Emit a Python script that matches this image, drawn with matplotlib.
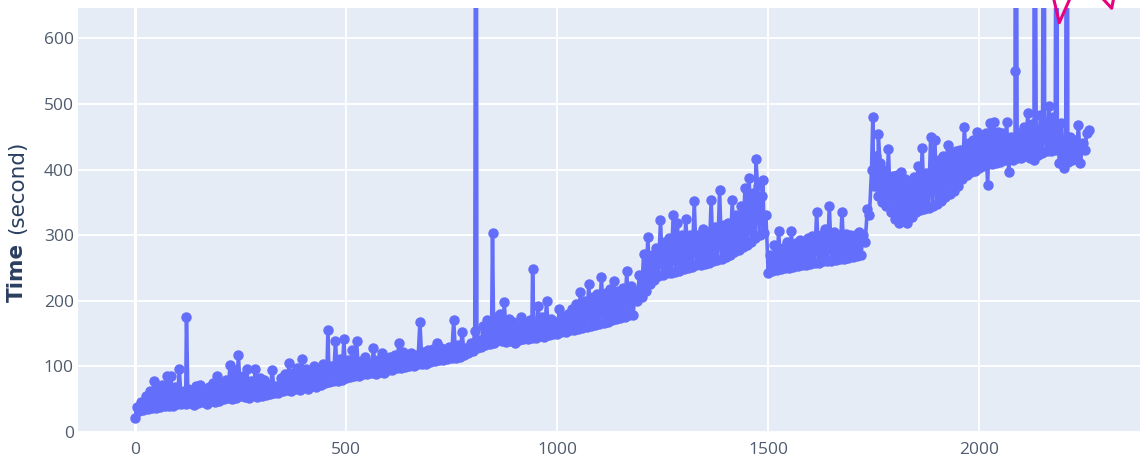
import matplotlib
matplotlib.use("Agg")
import matplotlib.pyplot as plt
import numpy as np

# run time per job, one value every 5 runs
STEP = 5
times = [
    22, 38, 32, 45, 33, 55, 35, 62, 36, 77, 37, 66, 38, 72, 39, 86, 40, 86, 40, 68,                     # 0
    42, 96, 43, 62, 42, 66, 44, 58, 41, 70, 44, 72, 46, 60, 43, 68, 47, 74, 46, 86,                     # 100
    48, 75, 50, 80, 52, 102, 50, 95, 52, 117, 55, 85, 54, 96, 52, 78, 56, 96, 54, 82,                   # 200
    55, 80, 57, 72, 58, 95, 60, 70, 59, 82, 62, 88, 64, 105, 62, 90, 66, 98, 64, 111,                   # 300
    68, 96, 66, 90, 70, 100, 68, 92, 72, 103, 74, 98, 76, 100, 78, 139, 78, 112, 80, 141,               # 400
    82, 110, 84, 125, 85, 139, 86, 108, 88, 115, 88, 105, 90, 128, 88, 110, 92, 121, 90, 112,           # 500
    94, 115, 95, 118, 97, 136, 98, 122, 99, 118, 100, 120, 101, 117, 103, 167, 103, 122, 104, 125,      # 600
    106, 126, 108, 136, 109, 128, 110, 124, 112, 130, 113, 170, 113, 132, 115, 152, 117, 128, 120, 135, # 700
    124, 154, 128, 140, 130, 162, 132, 170, 134, 165, 136, 175, 140, 180, 138, 198, 137, 172, 139, 168, # 800
    136, 160, 140, 175, 142, 165, 141, 170, 144, 160, 143, 192, 146, 175, 145, 199, 148, 172, 150, 168, # 900
    150, 188, 152, 175, 153, 180, 155, 187, 155, 195, 157, 213, 158, 200, 160, 226, 162, 205, 163, 210, # 1000
    165, 237, 166, 212, 168, 218, 170, 230, 172, 215, 174, 220, 176, 245, 178, 222, 178, 215, 200, 240, # 1100
    205, 272, 215, 297, 225, 270, 232, 280, 238, 323, 240, 290, 242, 295, 243, 330, 244, 319, 245, 300, # 1200
    248, 325, 250, 300, 252, 352, 254, 300, 255, 310, 256, 305, 258, 354, 260, 312, 262, 369, 264, 315, # 1300
    266, 318, 270, 353, 274, 330, 278, 345, 282, 372, 285, 387, 290, 365, 295, 375, 300, 360, 303, 330, # 1400
    243, 270, 245, 285, 247, 306, 248, 280, 250, 290, 250, 306, 252, 288, 253, 292, 254, 285, 255, 295, # 1500
    256, 298, 258, 336, 258, 300, 260, 310, 260, 345, 261, 305, 262, 300, 263, 336, 264, 302, 265, 300, # 1600
    266, 300, 268, 305, 270, 300, 290, 340, 330, 400, 375, 420, 360, 410, 350, 400, 345, 432, 335, 390, # 1700
    325, 392, 319, 396, 330, 385, 319, 380, 328, 388, 335, 405, 338, 433, 340, 395, 342, 450, 345, 445, # 1800
    348, 415, 352, 420, 358, 437, 362, 425, 368, 428, 375, 430, 385, 465, 392, 440, 396, 445, 398, 458, # 1900
    402, 452, 405, 455, 377, 471, 408, 473, 410, 458, 412, 455, 414, 473, 397, 450, 415, 445, 418, 455, # 2000
    418, 465, 420, 486, 418, 470, 415, 460, 422, 483, 425, 470, 428, 497, 428, 480, 430, 465, 410, 471, # 2100
    402, 440, 412, 450, 415, 445, 418, 468, 410, 440, 430, 455, 460,                                    # 2200
]

# isolated outliers (run, time); the tall ones run off the top of the plot
spike_runs = [122, 457, 808, 847, 942, 1471, 1488, 1748, 1761, 2085, 2086, 2130, 2154, 2184, 2208]
spike_times = [176, 155, 1400, 303, 249, 416, 384, 480, 454, 550, 1400, 1400, 1400, 1400, 1400]

runs = np.arange(len(times)) * STEP
x = np.concatenate([runs, spike_runs])
y = np.concatenate([times, spike_times])
order = np.argsort(x, kind="stable")
x, y = x[order], y[order]

W, H = 1140, 459
fig = plt.figure(figsize=(W / 100, H / 100), dpi=100)
ax = fig.add_axes([78 / W, (H - 432) / H, 1 - 78 / W, (432 - 7.5) / H])
ax.set_facecolor("#e5ecf6")
for s in ax.spines.values():
    s.set_visible(False)

ax.plot(x, y, color="#636efa", lw=2.6, marker="o", ms=6.5, zorder=3,
        solid_joinstyle="round")

ax.set_xlim(-135, 2381)
ax.set_ylim(0, 647)
ax.set_xticks([0, 500, 1000, 1500, 2000])
ax.set_yticks(range(0, 601, 100))
ax.grid(True, color="white", lw=1.3, zorder=0)
ax.set_axisbelow(True)
ax.axvline(0, color="white", lw=2.2, zorder=1)
ax.tick_params(length=0, labelsize=12.5, labelcolor="#4f5b6e", pad=7)
ax.tick_params(axis="y", pad=3)
for lab in ax.get_xticklabels() + ax.get_yticklabels():
    lab.set_family("Open Sans")

# y axis title, bold word + regular unit
fig.text(17 / W, (H - 272) / H, "Time", rotation=90, ha="center", va="center",
         fontsize=15.5, fontweight="bold", color="#2a3f5f", family="DejaVu Sans")
fig.text(17 / W, (H - 187) / H, "(second)", rotation=90, ha="center", va="center",
         fontsize=15.5, color="#2a3f5f", family="DejaVu Sans")

# hand drawn marks in the top right corner
pink = "#e8007f"
fig.add_artist(plt.Line2D(np.array([1054, 1059.3, 1069.3]) / W,
                          (H - np.array([0, 22.7, 0])) / H, color=pink, lw=2.2))
fig.add_artist(plt.Line2D(np.array([1104, 1111.7, 1113.3]) / W,
                          (H - np.array([0, 8.3, 0])) / H, color=pink, lw=2.2))

fig.savefig("out.png", dpi=100)
